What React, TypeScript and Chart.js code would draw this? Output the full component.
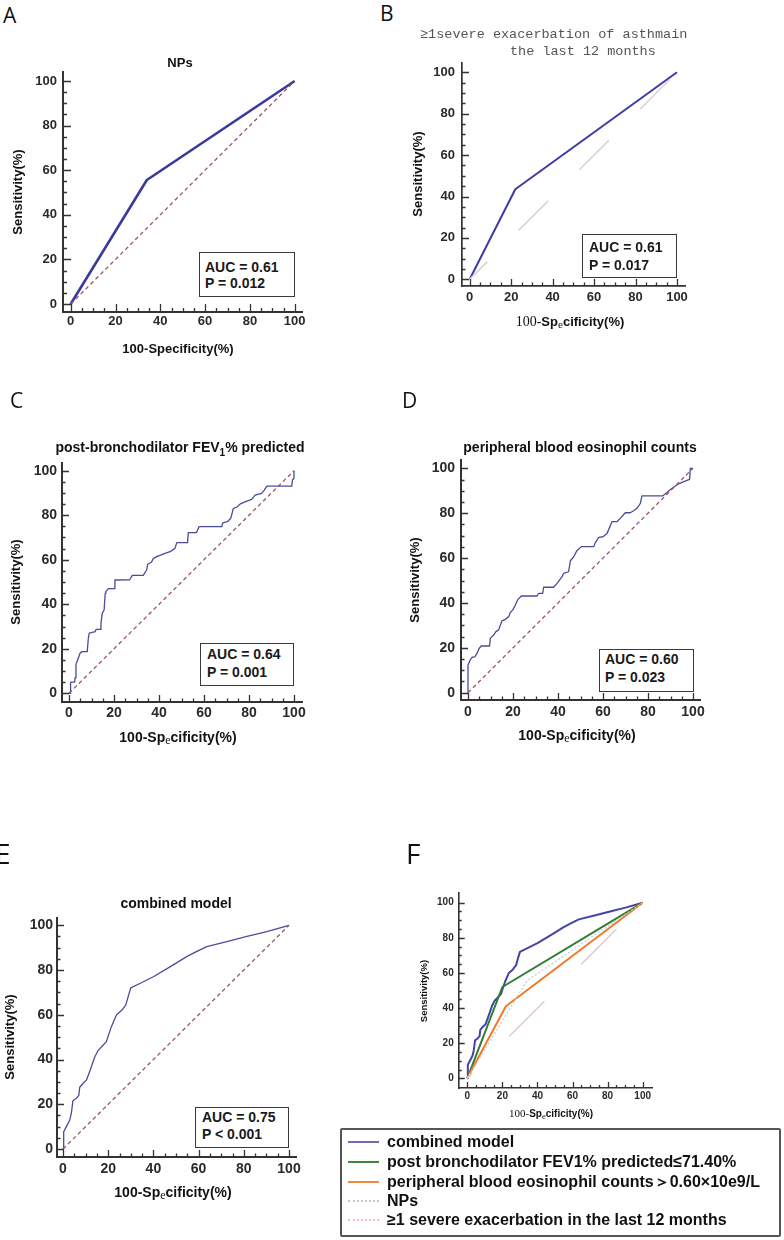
import React, { useEffect, useRef } from "react";
import { Chart, registerables } from "chart.js";

Chart.register(...registerables);

// ---------------- data ----------------
const tickValues = [0, 20, 40, 60, 80, 100];
const minorTickStep = 5;

const referenceLine: [number, number][] = [[0, 0], [100, 100]];

const npsRoc: [number, number][] = [[0, 0], [34, 55.6], [100, 100]];

const exacerbationRoc: [number, number][] = [[0, 0], [22, 43.5], [100, 100]];

const fev1Roc: [number, number][] = [
  [0, 0], [0.7, 0], [0.7, 5], [2.5, 5], [2.7, 7], [3.1, 13], [4.1, 15.7], [4.9, 18],
  [5.6, 18.7], [8.1, 18.7], [8.6, 24.7], [9, 27], [11.6, 27.7], [12, 28.7], [13.8, 28.7],
  [14.2, 31.4], [14.8, 36], [15.6, 37.4], [16.1, 45], [16.4, 45.7], [17.5, 47], [20.1, 47],
  [20.4, 50.9], [27, 51], [28.1, 53], [33, 53], [34.5, 55.4], [35, 58], [36.7, 59],
  [37.5, 60.6], [39, 61.4], [40.4, 62], [42.7, 62.9], [44.9, 63.6], [47.1, 65.1],
  [47.9, 67.7], [52.7, 67.7], [53, 72.2], [56.7, 72.2], [57.8, 74.9], [67.9, 74.9],
  [68.3, 76.6], [70.4, 77.1], [71.9, 78.6], [73, 83], [74.8, 83.8], [76, 85], [78.2, 86],
  [81.2, 87.1], [82.7, 89], [85.6, 89.8], [86.8, 91.3], [87.9, 93.1], [99, 93.1],
  [99.3, 95.8], [100, 96.6], [100, 100],
];

const eosinophilRoc: [number, number][] = [
  [0, 0], [0, 12.3], [1, 14.6], [1.8, 15.8], [3, 16], [4, 17.5], [5, 19.8], [5.9, 20.8],
  [9.6, 20.8], [9.9, 24.2], [11.4, 25.7], [12.4, 27.2], [13.6, 28], [14.4, 30.2],
  [15.1, 32], [16.6, 32.7], [18.1, 33.9], [18.8, 35.7], [19.9, 36.9], [21, 39],
  [22.2, 41.6], [23.7, 43.1], [30.7, 43.1], [31.4, 44.3], [33.2, 44.3], [33.6, 47],
  [38, 47], [39.6, 48.7], [41.8, 51.7], [42.5, 53.2], [44.7, 53.9], [45.5, 58.8],
  [47, 60.6], [48.4, 63.3], [50.4, 65.1], [55.9, 65.1], [56.6, 66.9], [58.1, 69.2],
  [60, 69.5], [61.8, 71], [64, 76.2], [66.2, 76.2], [67.7, 77.7], [69.9, 80.2],
  [72.1, 80.2], [73.6, 81.1], [75.1, 82.2], [76.6, 84.4], [77.3, 87.7], [86.5, 87.7],
  [88.4, 89.2], [90.7, 91.1], [93.6, 93.1], [95.9, 94.1], [98.5, 95.1], [98.8, 100],
  [100, 100],
];

const combinedRoc: [number, number][] = [
  [0, 0], [0.3, 7.7], [1.5, 10], [3, 13], [3.7, 16], [4.4, 21.6], [5.9, 22.7], [7, 24],
  [7.4, 27.6], [8.9, 29.4], [10.4, 30.8], [11.8, 34.6], [14, 41], [15.5, 44], [17.8, 46.5],
  [19.2, 48], [21.4, 54.7], [23.7, 60], [26, 62], [27.8, 64.4], [28.8, 68], [30, 72],
  [34, 74], [40, 77], [48.8, 82.3], [54.7, 86], [59, 88.2], [63.6, 90.5], [72.5, 92.7],
  [81.4, 95], [90.2, 97.2], [100, 100],
];

const fev1CutoffRoc: [number, number][] = [[0, 0], [20, 52], [100, 100]];
const eosinophilCutoffRoc: [number, number][] = [[0, 0], [22, 41], [100, 100]];

const aucA = ["AUC = 0.61", "P = 0.012"];
const aucB = ["AUC = 0.61", "P = 0.017"];
const aucC = ["AUC = 0.64", "P = 0.001"];
const aucD = ["AUC = 0.60", "P = 0.023"];
const aucE = ["AUC = 0.75", "P < 0.001"];

const legendLabels = [
  "combined model",
  "post bronchodilator FEV1% predicted\u226471.40%",
  "peripheral blood eosinophil counts\uff1e0.60\u00d710e9/L",
  "NPs",
  "\u22651 severe exacerbation in the last 12 months",
];

// ---------------- styling ----------------
const SANS = "'Liberation Sans', Arial, sans-serif";
const SERIF = "'Liberation Serif', 'DejaVu Serif', serif";
const MONO = "'Liberation Mono', 'DejaVu Sans Mono', monospace";
const LETTER = "'Open Sans', 'Liberation Sans', sans-serif";

const DIAG_COLOR = "#9a5566";
const CURVE_COLOR = "#4b4b9c";

type Series = {
  label: string;
  points: [number, number][];
  color: string;
  width: number;
  dash?: number[];
  dashOffset?: number;
};

type PanelSpec = {
  area: { l: number; t: number; r: number; b: number };
  x0: number; x100: number; y0: number; y100: number;
  fontSize: number;
  yGap: number;
  xPad: number;
  axisWidth: number;
  major: number;
  minor: number;
  series: Series[];
};

function makeInwardTicks(major: number, minor: number, width: number) {
  return {
    id: "inwardTicks",
    afterDraw(chart: any) {
      const { ctx, chartArea: a, scales } = chart;
      const x = scales.x;
      const y = scales.y;
      ctx.save();
      ctx.strokeStyle = "#333";
      ctx.lineWidth = width;
      ctx.beginPath();
      for (let v = 0; v <= 100; v += minorTickStep) {
        const len = tickValues.includes(v) ? major : minor;
        const px = Math.round(x.getPixelForValue(v)) + 0.5;
        ctx.moveTo(px, a.bottom);
        ctx.lineTo(px, a.bottom - len);
        const py = Math.round(y.getPixelForValue(v)) + 0.5;
        ctx.moveTo(a.left, py);
        ctx.lineTo(a.left + len, py);
      }
      ctx.stroke();
      ctx.restore();
    },
  };
}

function RocPanel({ spec }: { spec: PanelSpec }) {
  const ref = useRef<HTMLCanvasElement>(null);
  const { area } = spec;
  const cl = Math.floor(area.l) - 60;
  const ct = Math.floor(area.t) - 22;
  const cw = Math.ceil(area.r) + 22 - cl;
  const ch = Math.ceil(area.b) + 32 - ct;

  useEffect(() => {
    const xp = (spec.x100 - spec.x0) / 100;
    const xmin = -(spec.x0 - area.l) / xp;
    const xmax = 100 + (area.r - spec.x100) / xp;
    const yp = (spec.y0 - spec.y100) / 100;
    const ymin = -(area.b - spec.y0) / yp;
    const ymax = 100 + (spec.y100 - area.t) / yp;
    const tickFont = { family: SANS, size: spec.fontSize, weight: "bold" as const };

    const chart = new Chart(ref.current as HTMLCanvasElement, {
      type: "line",
      data: {
        datasets: spec.series.map((s) => ({
          label: s.label,
          data: s.points.map(([x, y]) => ({ x, y })),
          borderColor: s.color,
          borderWidth: s.width,
          borderDash: s.dash || [],
          borderDashOffset: s.dashOffset || 0,
          borderCapStyle: "butt" as const,
          borderJoinStyle: "round" as const,
          pointRadius: 0,
          fill: false,
          tension: 0,
        })),
      },
      options: {
        responsive: false,
        animation: false,
        devicePixelRatio: 1,
        events: [],
        layout: {
          padding: { left: 0, top: area.t - ct, right: cl + cw - area.r, bottom: 0 },
        },
        plugins: {
          legend: { display: false },
          tooltip: { enabled: false },
          title: { display: false },
        },
        scales: {
          x: {
            type: "linear",
            min: xmin,
            max: xmax,
            afterFit: (s: any) => { s.height = ct + ch - area.b; },
            afterBuildTicks: (s: any) => { s.ticks = tickValues.map((v) => ({ value: v })); },
            grid: { display: false, drawTicks: false },
            border: { display: true, color: "#333", width: spec.axisWidth },
            ticks: {
              font: tickFont, color: "#2a2a2a", padding: spec.xPad,
              maxRotation: 0, autoSkip: false, callback: (v: any) => String(v),
            },
          },
          y: {
            type: "linear",
            min: ymin,
            max: ymax,
            afterFit: (s: any) => { s.width = area.l - cl; },
            afterBuildTicks: (s: any) => { s.ticks = tickValues.map((v) => ({ value: v })); },
            grid: { display: false, drawTicks: false },
            border: { display: true, color: "#333", width: spec.axisWidth },
            ticks: {
              font: tickFont, color: "#2a2a2a", padding: spec.yGap,
              autoSkip: false, callback: (v: any) => String(v),
            },
          },
        },
      },
      plugins: [makeInwardTicks(spec.major, spec.minor, 1.3)],
    });
    return () => chart.destroy();
  }, []);

  return (
    <canvas
      ref={ref}
      width={cw}
      height={ch}
      style={{ position: "absolute", left: cl, top: ct, width: cw, height: ch }}
    />
  );
}

const panelA: PanelSpec = {
  area: { l: 63, t: 72, r: 302, b: 312 }, x0: 70.7, x100: 294.7, y0: 304, y100: 81,
  fontSize: 13, yGap: 6, xPad: 2, axisWidth: 2, major: 8, minor: 4,
  series: [
    { label: "reference", points: referenceLine, color: DIAG_COLOR, width: 1.3, dash: [4, 3] },
    { label: "NPs", points: npsRoc, color: "#3a3a9e", width: 2.6 },
  ],
};
const panelB: PanelSpec = {
  area: { l: 462, t: 63, r: 685, b: 286 }, x0: 469.7, x100: 677, y0: 279.3, y100: 72.3,
  fontSize: 13, yGap: 7, xPad: 4, axisWidth: 1.7, major: 7, minor: 3.5,
  series: [
    { label: "reference", points: referenceLine, color: "#dcd0d5", width: 1.5, dash: [42, 44], dashOffset: 17 },
    { label: "\u22651 severe exacerbation", points: exacerbationRoc, color: "#3c3ca6", width: 2 },
  ],
};
const panelC: PanelSpec = {
  area: { l: 62, t: 463, r: 302, b: 702 }, x0: 69, x100: 294, y0: 693.3, y100: 470.7,
  fontSize: 14, yGap: 5, xPad: 3, axisWidth: 2, major: 7, minor: 3.5,
  series: [
    { label: "reference", points: referenceLine, color: DIAG_COLOR, width: 1.3, dash: [4, 3] },
    { label: "FEV1", points: fev1Roc, color: CURVE_COLOR, width: 1.3 },
  ],
};
const panelD: PanelSpec = {
  area: { l: 461, t: 460, r: 700, b: 700 }, x0: 468, x100: 693, y0: 692.7, y100: 468.3,
  fontSize: 14, yGap: 6, xPad: 3.6, axisWidth: 2, major: 7, minor: 3.5,
  series: [
    { label: "reference", points: referenceLine, color: DIAG_COLOR, width: 1.3, dash: [4, 3] },
    { label: "eosinophil", points: eosinophilRoc, color: CURVE_COLOR, width: 1.3 },
  ],
};
const panelE: PanelSpec = {
  area: { l: 57, t: 918, r: 296, b: 1157 }, x0: 63, x100: 289, y0: 1149, y100: 925.3,
  fontSize: 14, yGap: 4, xPad: 3.6, axisWidth: 2, major: 7, minor: 3.5,
  series: [
    { label: "reference", points: referenceLine, color: DIAG_COLOR, width: 1.3, dash: [4, 3] },
    { label: "combined model", points: combinedRoc, color: CURVE_COLOR, width: 1.3 },
  ],
};
const panelF: PanelSpec = {
  area: { l: 458.7, t: 893, r: 652.7, b: 1088 }, x0: 467.3, x100: 642.7, y0: 1078.3, y100: 902.7,
  fontSize: 10, yGap: 5, xPad: 2.7, axisWidth: 1.6, major: 6, minor: 3,
  series: [
    { label: legendLabels[4], points: referenceLine, color: "#e4c8d8", width: 1.5, dash: [50, 52], dashOffset: 43 },
    { label: legendLabels[3], points: npsRoc, color: "#b7d0d0", width: 1.2, dash: [2, 2] },
    { label: legendLabels[2], points: eosinophilCutoffRoc, color: "#f07a2a", width: 2 },
    { label: legendLabels[1], points: fev1CutoffRoc, color: "#2e7d34", width: 2 },
    { label: legendLabels[0], points: combinedRoc, color: "#4444a8", width: 2 },
  ],
};

// ---------------- text helpers ----------------
function T(props: { x: number; y: number; left?: boolean; rot?: boolean; s?: React.CSSProperties; children: React.ReactNode }) {
  const { x, y, left, rot, s, children } = props;
  const transform = rot
    ? "translate(-50%,-50%) rotate(-90deg)"
    : left
    ? "translateY(-50%)"
    : "translate(-50%,-50%)";
  return (
    <div style={{ position: "absolute", left: x, top: y, transform, whiteSpace: "nowrap", lineHeight: 1, ...s }}>
      {children}
    </div>
  );
}

function AucBox(props: { box: [number, number, number, number]; lines: string[]; tx: number; y1: number; y2: number; bw: number }) {
  const { box, lines, tx, y1, y2, bw } = props;
  const f: React.CSSProperties = { fontFamily: SANS, fontWeight: "bold", fontSize: 14, color: "#1a1a1a" };
  return (
    <>
      <div style={{ position: "absolute", left: box[0], top: box[1], width: box[2] - box[0], height: box[3] - box[1], border: `${bw}px solid #3a3a3a`, boxSizing: "border-box", background: "#fff" }} />
      <T x={tx} y={y1} left s={f}>{lines[0]}</T>
      <T x={tx} y={y2} left s={f}>{lines[1]}</T>
    </>
  );
}

const boldSans = (size: number): React.CSSProperties => ({ fontFamily: SANS, fontWeight: "bold", fontSize: size, color: "#111" });
const letterStyle = (size: number): React.CSSProperties => ({ fontFamily: LETTER, fontSize: size, color: "#111" });

function SpecTitle({ size, serif100 }: { size: number; serif100: boolean }) {
  return (
    <span>
      {serif100 ? (
        <span style={{ fontFamily: SERIF, fontWeight: "normal", fontSize: size + 1 }}>100-</span>
      ) : (
        <span>100-</span>
      )}
      <span>Sp</span>
      <span style={{ fontFamily: SERIF, fontWeight: "normal", fontSize: size * 0.85, position: "relative", top: size * 0.15 }}>e</span>
      <span>cificity(%)</span>
    </span>
  );
}

export default function App() {
  return (
    <div style={{ position: "absolute", left: 0, top: 0, width: 784, height: 1240, background: "#fff", overflow: "hidden" }}>
      <RocPanel spec={panelA} />
      <RocPanel spec={panelB} />
      <RocPanel spec={panelC} />
      <RocPanel spec={panelD} />
      <RocPanel spec={panelE} />
      <RocPanel spec={panelF} />

      {/* Panel A */}
      <T x={3} y={15} left s={letterStyle(21)}>A</T>
      <T x={180} y={62} s={boldSans(13)}>NPs</T>
      <T x={17} y={192} rot s={boldSans(13)}>Sensitivity(%)</T>
      <T x={178} y={348} s={boldSans(13)}>100-Specificity(%)</T>
      <AucBox box={[199, 252, 295, 297]} lines={aucA} tx={205} y1={267} y2={283} bw={1} />

      {/* Panel B */}
      <T x={380} y={13} left s={letterStyle(21)}>B</T>
      <T x={420} y={35} left s={{ fontFamily: MONO, fontSize: 13.5, color: "#555" }}>{"\u22651severe exacerbation of asthmain"}</T>
      <T x={510} y={52} left s={{ fontFamily: MONO, fontSize: 13.5, color: "#555" }}>the last 12 months</T>
      <T x={417} y={174} rot s={boldSans(13)}>Sensitivity(%)</T>
      <T x={570} y={322} s={boldSans(13)}><SpecTitle size={13} serif100 /></T>
      <AucBox box={[582, 234, 677, 278]} lines={aucB} tx={589} y1={247} y2={265} bw={1.3} />

      {/* Panel C */}
      <T x={10} y={400} left s={letterStyle(21)}>C</T>
      <T x={180} y={449} s={boldSans(14)}>
        post-bronchodilator FEV<sub style={{ fontSize: 10 }}>1</sub>% predicted
      </T>
      <T x={15} y={582} rot s={boldSans(13)}>Sensitivity(%)</T>
      <T x={178} y={737} s={boldSans(14)}><SpecTitle size={14} serif100={false} /></T>
      <AucBox box={[200, 643, 294, 686]} lines={aucC} tx={207} y1={654} y2={672} bw={1.6} />

      {/* Panel D */}
      <T x={402} y={400} left s={letterStyle(21)}>D</T>
      <T x={580} y={447} s={boldSans(14)}>peripheral blood eosinophil counts</T>
      <T x={414} y={580} rot s={boldSans(13)}>Sensitivity(%)</T>
      <T x={577} y={735} s={boldSans(14)}><SpecTitle size={14} serif100={false} /></T>
      <AucBox box={[599, 649, 694, 692]} lines={aucD} tx={605} y1={659} y2={677} bw={1.6} />

      {/* Panel E */}
      <T x={-5} y={853} left s={letterStyle(28)}>E</T>
      <T x={176} y={903} s={boldSans(14)}>combined model</T>
      <T x={9} y={1037} rot s={boldSans(13)}>Sensitivity(%)</T>
      <T x={173} y={1192} s={boldSans(14)}><SpecTitle size={14} serif100={false} /></T>
      <AucBox box={[195, 1107, 289, 1148]} lines={aucE} tx={202} y1={1117} y2={1134} bw={1.6} />

      {/* Panel F */}
      <T x={406} y={853} left s={letterStyle(28)}>F</T>
      <T x={424} y={991} rot s={boldSans(9.5)}>Sensitivity(%)</T>
      <T x={551} y={1113} s={boldSans(10)}><SpecTitle size={10} serif100 /></T>

      {/* Legend */}
      <div style={{ position: "absolute", left: 340, top: 1128, width: 441, height: 109, border: "2px solid #555", borderRadius: 2, boxSizing: "border-box", background: "#fff" }} />
      {legendLabels.map((lab, i) => {
        const ys = [1142, 1162, 1182, 1201, 1220];
        const styles = [
          "2px solid #6e6eb0",
          "2px solid #3d8a3d",
          "2px solid #ef8a40",
          "2px dotted #b8c8cc",
          "2px dotted #f0b8dc",
        ];
        return (
          <React.Fragment key={lab}>
            <div style={{ position: "absolute", left: 348, top: ys[i] - 1, width: 31, height: 0, borderTop: styles[i] }} />
            <T x={387} y={ys[i]} left s={boldSans(16)}>{lab}</T>
          </React.Fragment>
        );
      })}
    </div>
  );
}
